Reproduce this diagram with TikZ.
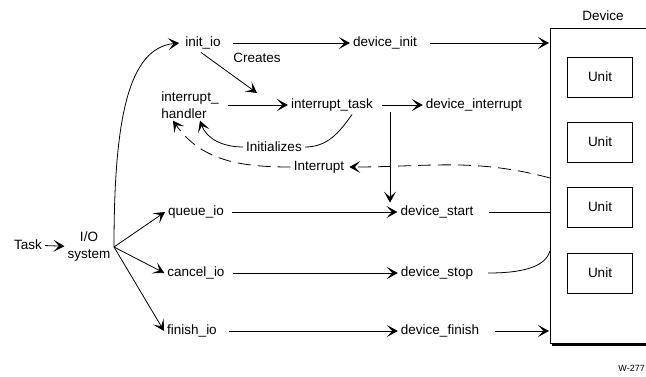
\documentclass[tikz,border=0pt]{standalone}
\usepackage{fontspec}
\setmainfont{Liberation Sans}
\usetikzlibrary{arrows.meta,calc}
\begin{document}
\begin{tikzpicture}[x=1pt,y=-1pt,
  every node/.style={font=\fontsize{13.5}{16}\selectfont, inner sep=3pt},
  link/.style={line width=0.8pt},
  tip/.style={-{Stealth[length=11pt,width=12pt,inset=5.5pt]}},
  arr/.style={link, tip},
  dashlink/.style={link, dash pattern=on 13pt off 7pt},
  unitbox/.style={draw, line width=0.8pt, minimum width=65pt, minimum height=40pt}]
\useasboundingbox (0,0) rectangle (646,376);

% device frame with its heavy lower edge
\draw[line width=0.8pt] (660,28) -- (550,28) -- (550,343) -- (660,343);
\draw[line width=2.6pt] (552,345) -- (660,345);
\node (device) at (603,16) {Device};
\node[unitbox] (u1) at (600,77)  {Unit};
\node[unitbox] (u2) at (600,142) {Unit};
\node[unitbox] (u3) at (600,207) {Unit};
\node[unitbox] (u4) at (600,273) {Unit};
\coordinate (pinit)   at (549,43);
\coordinate (pintr)   at (550,178);
\coordinate (pstart)  at (550,212);
\coordinate (pstop)   at (550,251);
\coordinate (pfinish) at (549,331);

% routines
\node (task) at (28,245) {Task};
\node[align=center, font=\fontsize{13.5}{17}\selectfont] (io) at (89,247) {I/O\\system};
\coordinate (iob) at (114,247);
\node (initio)   at (203,43)  {init\_io};
\node (creates)  at (257,58)  {Creates};
\node[align=left, font=\fontsize{13.5}{17}\selectfont] (handler) at (190,105) {interrupt\_\\handler};
\node (itask)    at (332,105) {interrupt\_task};
\node (devint)   at (474,105) {device\_interrupt};
\node (initl)    at (274,147) {Initializes};
\node (intr)     at (319,167) {Interrupt};
\node (queueio)  at (196,212) {queue\_io};
\node (cancelio) at (196,273) {cancel\_io};
\node (finishio) at (192,331) {finish\_io};
\node (devinit)  at (385,43)  {device\_init};
\node (devstart) at (437,212) {device\_start};
\node (devstop)  at (437,273) {device\_stop};
\node (devfinish) at (440,331) {device\_finish};
\coordinate (ct)   at (257,93);
\coordinate (vtop) at (390,112);

% connectors
\draw[arr] (task) -- (io);
\draw[arr] (iob) .. controls (114,120) and (128,48) .. ([xshift=-3pt]initio.west);
\draw[arr] (iob) -- (queueio.west);
\draw[arr] (iob) -- (cancelio.west);
\draw[arr] (iob) -- (finishio.west);
\draw[arr, shorten <=9pt] (initio.east) -- (devinit.west);
\draw[arr, shorten <=10pt] (devinit.east) -- (pinit);
\draw[arr] ([xshift=-2pt]initio.south) -- (ct);
\draw[arr, shorten <=6pt] (handler.east |- itask) -- (itask.west);
\draw[arr, shorten <=6pt] (itask.east) -- (devint.west);
\draw[link] ([xshift=20pt]itask.south) to[out=-125,in=0] (initl.east);
\draw[arr] (initl.west) to[out=180,in=-70] ([xshift=10pt,yshift=1pt]handler.south);
\draw[dashlink, tip] (pintr) to[out=165,in=0] ([xshift=2pt]intr.east);
\draw[dashlink, tip] (intr.west) to[out=180,in=-55] ([xshift=-17pt,yshift=1pt]handler.south);
\draw[arr] (vtop) -- (vtop |- devstart.north);
\draw[arr, shorten <=5pt] (queueio.east) -- (devstart.west);
\draw[link, shorten <=12pt] (devstart.east) -- (pstart);
\draw[arr, shorten <=5pt] (cancelio.east) -- (devstop.west);
\draw[link, shorten <=12pt] (devstop.east) .. controls (530,273) and (546,264) .. (pstop);
\draw[arr, shorten <=9pt] (finishio.east) -- (devfinish.west);
\draw[arr, shorten <=13pt] (devfinish.east) -- (pfinish);

\node[font=\fontsize{9}{10}\selectfont, anchor=east, inner sep=1pt] (tag) at (646,368) {W-277};
\end{tikzpicture}
\end{document}
